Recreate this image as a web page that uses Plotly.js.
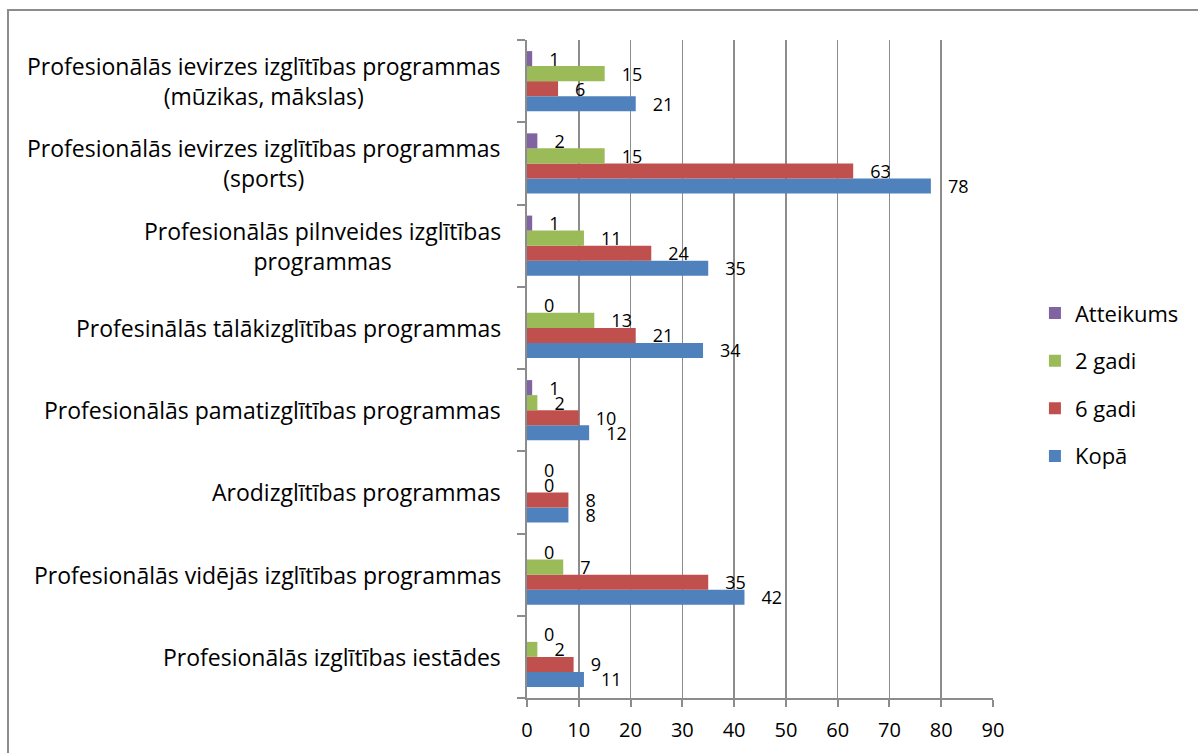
<!DOCTYPE html>
<html>
<head>
<meta charset="utf-8">
<script src="https://cdn.plot.ly/plotly-3.0.1.min.js"></script>
<style>
html,body{margin:0;padding:0;background:#fff;overflow:hidden;}
#frame{position:absolute;left:7px;top:9px;width:1300px;height:900px;border:2px solid #8c8c8c;box-sizing:border-box;}
#chart{position:absolute;left:0;top:0;width:1198px;height:753px;}
</style>
</head>
<body>
<div id="frame"></div>
<div id="chart"></div>
<script>
var categories = [
  "Profesionālās izglītības iestādes",
  "Profesionālās vidējās izglītības programmas",
  "Arodizglītības programmas",
  "Profesionālās pamatizglītības programmas",
  "Profesinālās tālākizglītības programmas",
  "Profesionālās pilnveides izglītības<br>programmas",
  "Profesionālās ievirzes izglītības programmas<br>(sports)",
  "Profesionālās ievirzes izglītības programmas<br>(mūzikas, mākslas)"
];
var kopa      = [11, 42, 8, 12, 34, 35, 78, 21];
var gadi6     = [9, 35, 8, 10, 21, 24, 63, 6];
var gadi2     = [2, 7, 0, 2, 13, 11, 15, 15];
var atteikums = [0, 0, 0, 1, 0, 1, 2, 1];
var xTicks = [0, 10, 20, 30, 40, 50, 60, 70, 80, 90];

var FONT = "'Open Sans', Lato, sans-serif";
var pad = "\u00a0\u00a0\u00a0";

function mk(name, vals, color, rank) {
  return {
    type: "bar", orientation: "h", name: name,
    y: categories, x: vals,
    marker: {color: color, line: {width: 0}},
    text: vals.map(function(v){ return pad + v; }),
    textposition: "outside", constraintext: "none", cliponaxis: false,
    textfont: {family: FONT, size: 18, color: "#000"},
    hoverinfo: "x+name", legendgroup: name, legendrank: rank
  };
}

var data = [
  mk("Kopā", kopa, "#4F81BD", 4),
  mk("6 gadi", gadi6, "#C0504D", 3),
  mk("2 gadi", gadi2, "#9BBB59", 2),
  mk("Atteikums", atteikums, "#8064A2", 1)
];

var annotations = categories.map(function(c){
  return {xref: "paper", yref: "y", x: 0, y: c, xanchor: "right", yanchor: "middle",
          xshift: -24, text: c, showarrow: false, align: "center",
          font: {family: FONT, size: 23, color: "#000"}};
});

var layout = {
  width: 1198, height: 753,
  margin: {l: 527, r: 205, t: 40, b: 55, pad: 0},
  paper_bgcolor: "rgba(0,0,0,0)", plot_bgcolor: "rgba(0,0,0,0)",
  barmode: "group", bargap: 0.27, bargroupgap: 0,
  showlegend: true,
  legend: {traceorder: "grouped", x: 1.09, xanchor: "left", y: 0.476, yanchor: "middle",
           font: {family: FONT, size: 22, color: "#000"}, tracegroupgap: 16, itemwidth: 30},
  xaxis: {range: [0, 90], tickvals: xTicks, ticktext: xTicks.map(String),
          showgrid: true, gridcolor: "#8c8c8c", gridwidth: 1.5,
          showline: true, linecolor: "#8c8c8c", linewidth: 2,
          ticks: "outside", ticklen: 7, tickcolor: "#8c8c8c", tickwidth: 2,
          ticklabelstandoff: 6,
          zeroline: false, fixedrange: true,
          tickfont: {family: FONT, size: 20, color: "#000"}},
  yaxis: {type: "category", showticklabels: false, showgrid: false,
          showline: true, linecolor: "#8c8c8c", linewidth: 2,
          ticks: "outside", tickson: "boundaries", ticklen: 8, tickcolor: "#8c8c8c", tickwidth: 2,
          zeroline: false, fixedrange: true},
  annotations: annotations
};

Plotly.newPlot("chart", data, layout, {displayModeBar: false, staticPlot: true});
</script>
</body>
</html>
